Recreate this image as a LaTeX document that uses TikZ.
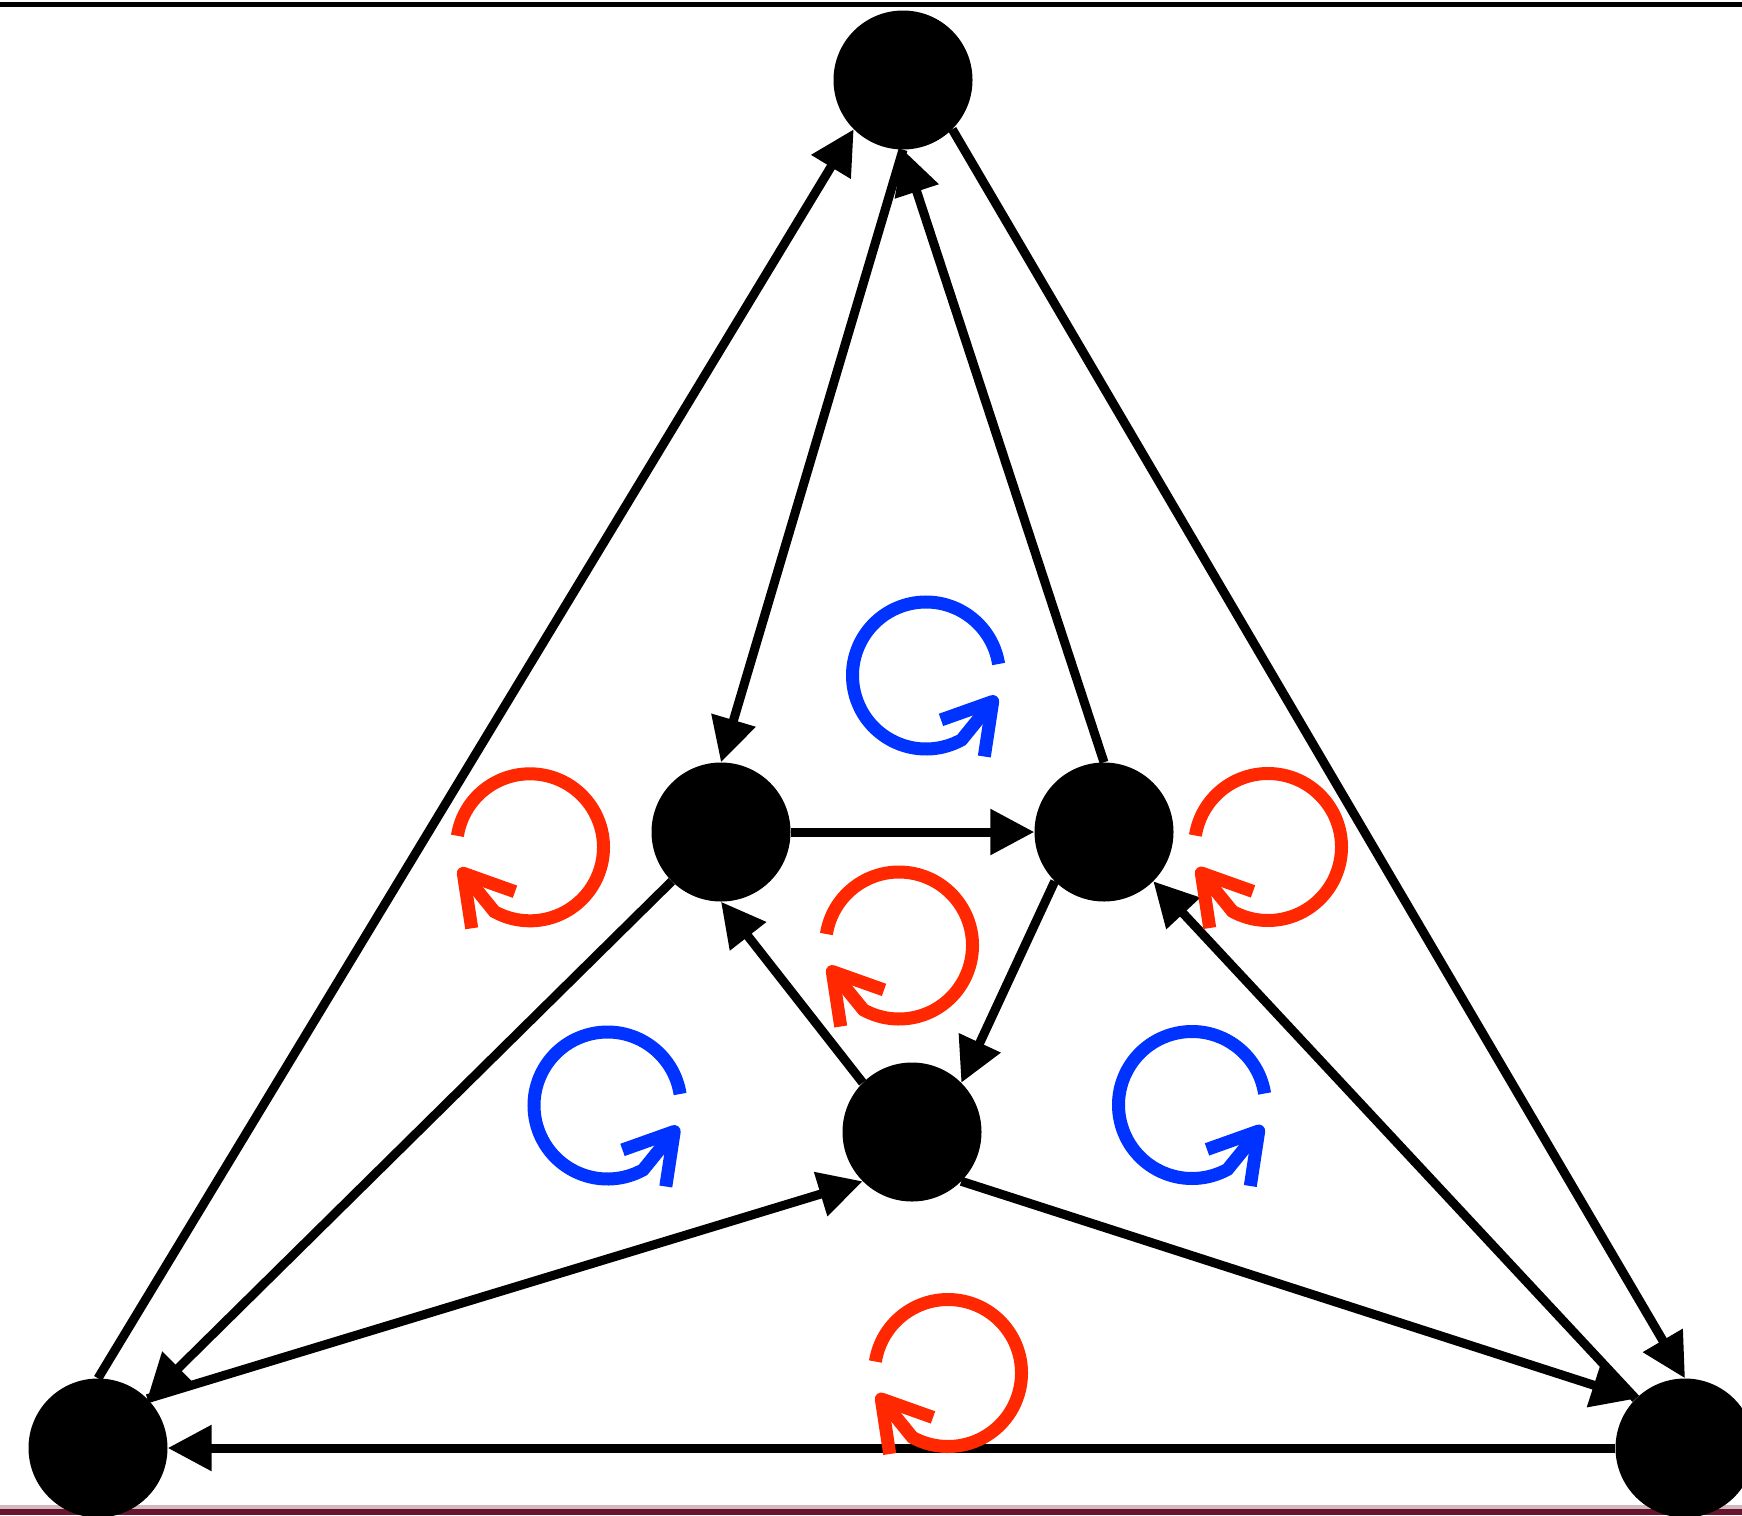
\documentclass[tikz,border=0pt]{standalone}
\usetikzlibrary{arrows.meta}
\definecolor{loopred}{RGB}{255,40,0}
\definecolor{loopblue}{RGB}{0,51,255}
\definecolor{rimmaroon}{RGB}{105,20,45}
\tikzset{
  vertex/.style={circle,fill=black,draw=none,minimum size=139pt,inner sep=0pt},
  edge/.style={line width=9pt,-{Triangle[length=44pt,width=44pt]}},
  loopline/.style={line width=13pt},
  redloop/.pic={
    \draw[loopline,loopred] (189:73.5) arc[start angle=189,end angle=479,radius=73.5] -- (-66.7,26);
    \draw[loopline,loopred,line join=round] (-15,44.4) -- (-66.7,26) -- (-58.3,81);
  },
  blueloop/.pic={
    \draw[loopline,loopblue] (351:73.5) arc[start angle=351,end angle=61,radius=73.5] -- (66.7,26);
    \draw[loopline,loopblue,line join=round] (15,44.4) -- (66.7,26) -- (58.3,81);
  }
}
\begin{document}
\begin{tikzpicture}[x=1pt,y=-1pt]
\useasboundingbox (0,0) rectangle (1742,1515);
\fill[white] (0,0) rectangle (1742,1515);
% frame remnants
\draw[line width=5pt] (0,4) -- (1742,4);
\fill[rimmaroon!30] (0,1505) rectangle (1742,1509);
\fill[rimmaroon] (0,1509) rectangle (1742,1515);
% vertices
\node[vertex] (T)  at (903,80) {};
\node[vertex] (ML) at (721,832) {};
\node[vertex] (MR) at (1104,832) {};
\node[vertex] (C)  at (912,1132) {};
\node[vertex] (BL) at (98,1448) {};
\node[vertex] (BR) at (1685,1448) {};
% edges
\draw[edge] (BL.north) -- (T.south west);
\draw[edge] (T.south) -- (ML.north);
\draw[edge] (MR.north) -- (T.south);
\draw[edge] (T.south east) -- (BR.north);
\draw[edge] (ML.east) -- (MR.west);
\draw[edge] (MR.south west) -- (C.north east);
\draw[edge] (C.north west) -- (ML.south);
\draw[edge] (BL.north east) -- (C.south west);
\draw[edge] (C.south east) -- (BR.north west);
\draw[edge] (BR.north west) -- (MR.south east);
\draw[edge] (ML.south west) -- (BL.north east);
\draw[edge] (BR.west) -- (BL.east);
% rotation symbols
\pic at (926,675.5) {blueloop};
\pic at (607.5,1105.5) {blueloop};
\pic at (1192,1105) {blueloop};
\pic at (530,847.3) {redloop};
\pic at (1268,847) {redloop};
\pic at (899,945.5) {redloop};
\pic at (948,1373) {redloop};
\end{tikzpicture}
\end{document}
